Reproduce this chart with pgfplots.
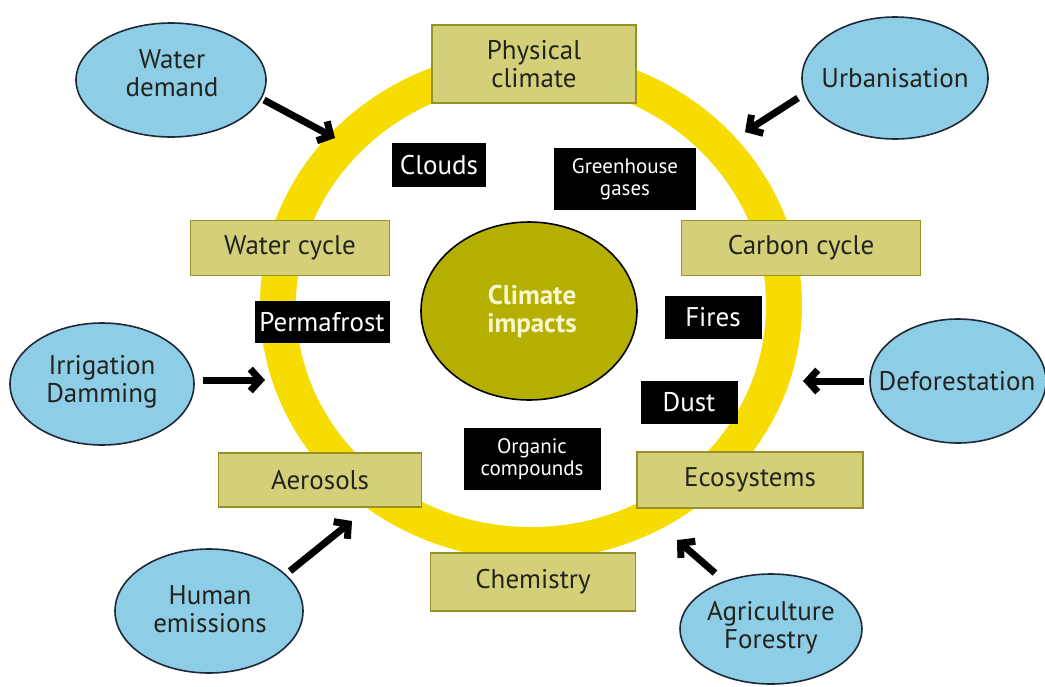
\documentclass[border=0pt]{standalone}
\usepackage{pgfplots}
\pgfplotsset{compat=1.18}
\usepackage{fontspec}
\setmainfont{PT Sans}
\usetikzlibrary{shapes.geometric,arrows.meta}
\definecolor{ringyel}{RGB}{246,220,0}
\definecolor{boxfill}{RGB}{212,208,122}
\definecolor{boxline}{RGB}{150,145,40}
\definecolor{cenfill}{RGB}{180,175,0}
\definecolor{centext}{RGB}{250,246,205}
\definecolor{bluefill}{RGB}{142,205,230}
\definecolor{blueline}{RGB}{30,40,55}
\definecolor{txt}{RGB}{35,35,30}
\newcommand\bigf{\fontsize{13.5}{14}\selectfont}
\newcommand\smallf{\fontsize{10.5}{11}\selectfont}
\tikzset{obox/.style={rectangle, fill=boxfill, draw=boxline, line width=0.8pt, inner sep=0pt, text=txt, font=\bigf, align=center},
         kbox/.style={rectangle, fill=black, inner sep=0pt, text=white, align=center},
         bell/.style={ellipse, fill=bluefill, draw=blueline, line width=0.8pt, inner sep=0pt},
         btxt/.style={text=txt, font=\bigf, align=center, inner sep=0pt},
         arr/.style={black, solid, line width=3.5pt, -{Straight Barb[length=5pt,width=11pt]}, no markers}}
\begin{document}
\begin{tikzpicture}
\begin{axis}[
  scale only axis, width=522.5pt, height=343pt,
  xmin=0, xmax=1045, ymin=0, ymax=686, y dir=reverse,
  axis lines=none, clip=false,
]
\coordinate (tl) at (axis cs:0,0);
\coordinate (br) at (axis cs:1045,686);
% ring
\node[ellipse, fill=ringyel, inner sep=0pt, minimum width=271pt, minimum height=255pt] at (axis cs:531,305) {};
\node[ellipse, fill=white, inner sep=0pt, minimum width=235pt, minimum height=222pt] at (axis cs:531,305) {};
% centre
\node[ellipse, fill=cenfill, draw=black, line width=0.8pt, inner sep=0pt, minimum width=108pt, minimum height=89pt] at (axis cs:529,311) {};
\node[text=centext, font=\bigf\bfseries, align=center, inner sep=0pt] at (axis cs:532,312) {Climate\\impacts};
% olive boxes
\node[obox, minimum width=102pt, minimum height=39pt] at (axis cs:534,64) {Physical\\climate};
\node[obox, minimum width=99.5pt, minimum height=27.5pt] at (axis cs:290,248) {Water cycle};
\node[obox, minimum width=119.5pt, minimum height=27.5pt] at (axis cs:801,248) {Carbon cycle};
\node[obox, minimum width=101.5pt, minimum height=27pt] at (axis cs:320,480) {Aerosols};
\node[obox, minimum width=113pt, minimum height=28pt] at (axis cs:750,480) {Ecosystems};
\node[obox, minimum width=102.5pt, minimum height=29pt] at (axis cs:533,582) {Chemistry};
% black boxes
\node[kbox, minimum width=47pt, minimum height=22pt, font=\bigf] at (axis cs:439,165) {Clouds};
\node[kbox, minimum width=71pt, minimum height=31pt, font=\smallf] at (axis cs:625,179) {Greenhouse\\gases};
\node[kbox, minimum width=67.5pt, minimum height=21pt, font=\bigf] at (axis cs:322,322) {Permafrost};
\node[kbox, minimum width=48.5pt, minimum height=21.5pt, font=\bigf] at (axis cs:713,317) {Fires};
\node[kbox, minimum width=48.5pt, minimum height=21.5pt, font=\bigf] at (axis cs:689,402) {Dust};
\node[kbox, minimum width=68.5pt, minimum height=31pt, font=\smallf] at (axis cs:532,459) {Organic\\compounds};
% blue ellipses
\node[bell, minimum width=95pt, minimum height=57pt] at (axis cs:171,80) {};
\node[btxt] at (axis cs:172,73) {Water\\demand};
\node[bell, minimum width=93pt, minimum height=61pt] at (axis cs:895,78) {};
\node[btxt] at (axis cs:895,78) {Urbanisation};
\node[bell, minimum width=92pt, minimum height=61pt] at (axis cs:102,384) {};
\node[btxt] at (axis cs:102,382) {Irrigation\\Damming};
\node[bell, minimum width=88pt, minimum height=62pt] at (axis cs:958,381) {};
\node[btxt] at (axis cs:957,381) {Deforestation};
\node[bell, minimum width=94pt, minimum height=62pt] at (axis cs:209,611) {};
\node[btxt] at (axis cs:210,609) {Human\\emissions};
\node[bell, minimum width=91pt, minimum height=55pt] at (axis cs:771,629) {};
\node[btxt] at (axis cs:771,628) {Agriculture\\Forestry};
% arrows
\addplot[arr] coordinates {(264,100) (335,138)};
\addplot[arr] coordinates {(798,98) (745,132)};
\addplot[arr] coordinates {(203,380) (265,380)};
\addplot[arr] coordinates {(864,381) (803,381)};
\addplot[arr] coordinates {(290,571) (352,521)};
\addplot[arr] coordinates {(715,573) (677,540)};
\end{axis}
\pgfresetboundingbox
\path[use as bounding box] (tl) rectangle (br);
\end{tikzpicture}
\end{document}
